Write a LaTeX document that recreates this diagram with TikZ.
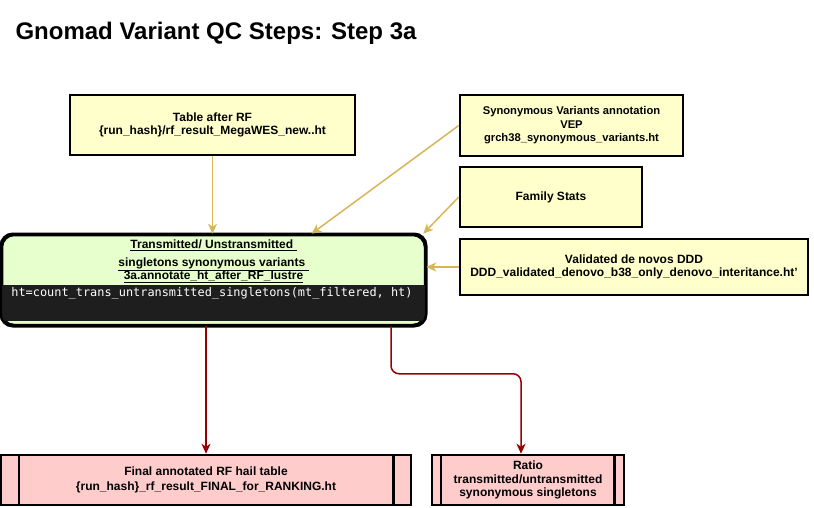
\documentclass[tikz,border=0pt]{standalone}
\usepackage{fontspec}
\setmainfont{Liberation Sans}
\setmonofont{DejaVu Sans Mono}
\usetikzlibrary{arrows.meta}
\definecolor{srcfill}{HTML}{FFFFCC}
\definecolor{stepfill}{HTML}{E6FFCC}
\definecolor{codebg}{HTML}{1E1E1E}
\definecolor{outfill}{HTML}{FFCCCC}
\definecolor{feedcol}{HTML}{D6B656}
\definecolor{flowcol}{HTML}{990000}

\begin{document}
\begin{tikzpicture}[x=1pt,y=-1pt,
src/.style={draw,line width=2.5pt,fill=srcfill,inner sep=0,align=center,
	font=\bfseries\fontsize{12}{13.5}\selectfont},
outbox/.style={draw,line width=2.5pt,fill=outfill,inner sep=0,align=center,
	font=\bfseries\fontsize{12}{14.5}\selectfont},
feed/.style={-{Stealth[length=10pt,width=9pt,inset=3pt]}, feedcol, line width=1.5pt},
flow/.style={-{Stealth[length=10pt,width=9pt,inset=3pt]}, flowcol, line width=1.5pt, rounded corners=8pt},
lab/.style={font=\bfseries\fontsize{12}{13.5}\selectfont,align=center}]
	\useasboundingbox (0,0) rectangle (814,507);
	\node[anchor=west,font=\bfseries\fontsize{24}{28}\selectfont] (title) at (12,33) {Gnomad Variant QC Steps: Step 3a};

	%inputs
	\node[src,minimum width=285,minimum height=60] (rf) at (212.5,125) {Table after RF\\\{run\_hash\}/rf\_result\_MegaWES\_new..ht};
	\node[src,minimum width=223,minimum height=61,font=\bfseries\fontsize{11.2}{13.5}\selectfont] (syn) at (571.5,125.5) {Synonymous Variants annotation\\VEP\\grch38\_synonymous\_variants.ht};
	\node[src,minimum width=182,minimum height=60] (fam) at (551,197) {Family Stats};
	\node[src,minimum width=348,minimum height=56] (ddd) at (634,267) {Validated de novos DDD\\DDD\_validated\_denovo\_b38\_only\_denovo\_interitance.ht'};

	%step 3a
	\node[draw,line width=2.5pt,fill=stepfill,rounded corners=12pt,minimum width=423,minimum height=90,inner sep=0] (step) at (213.5,280) {};
	\begin{scope}
		\clip[rounded corners=12pt] (step.north west) rectangle (step.south east);
		\fill[codebg] (step.west |- 0,285) rectangle (step.east |- 0,321);
	\end{scope}
	\node[lab] (steplab) at (213.5,261) {\underline{Transmitted/ Unstransmitted\ }\\[5pt]\underline{singletons synonymous variants\ }\\[-1pt]\underline{3a.annotate\_ht\_after\_RF\_lustre}};
	\node[white,font=\ttfamily\fontsize{11.9}{14}\selectfont] (stepcode) at (212,293) {ht=count\_trans\_untransmitted\_singletons(mt\_filtered, ht)};
	\draw[line width=2.5pt,rounded corners=12pt] (step.north west) rectangle (step.south east);

	%outputs
	\node[outbox,minimum width=410,minimum height=50] (final) at (206,480) {Final annotated RF hail table\\\{run\_hash\}\_rf\_result\_FINAL\_for\_RANKING.ht};
	\draw[line width=2.5pt] ([xshift=19]final.north west) -- ([xshift=19]final.south west);
	\draw[line width=2.5pt] ([xshift=-19]final.north east) -- ([xshift=-19]final.south east);
	\node[outbox,minimum width=192,minimum height=50,font=\bfseries\fontsize{12}{13.5}\selectfont] (ratio) at (528,480) {Ratio\\transmitted/untransmitted\\synonymous singletons};
	\draw[line width=2.5pt] ([xshift=10]ratio.north west) -- ([xshift=10]ratio.south west);
	\draw[line width=2.5pt] ([xshift=-11]ratio.north east) -- ([xshift=-11]ratio.south east);

	\draw[feed] (rf.south) -- (rf.south |- step.north);
	\draw[feed] (syn.west) -- ([xshift=98]step.north);
	\draw[feed] (fam.west) -- ([xshift=-3]step.north east);
	\draw[feed] (ddd.west) -- (step.east |- ddd.west);

	\draw[flow] ([xshift=-7.5]step.south) -- (final.north);
	\draw[flow] ([xshift=177.5]step.south) |- ([xshift=-7,yshift=80]ratio.north) -- ([xshift=-7]ratio.north);
\end{tikzpicture}
\end{document}
